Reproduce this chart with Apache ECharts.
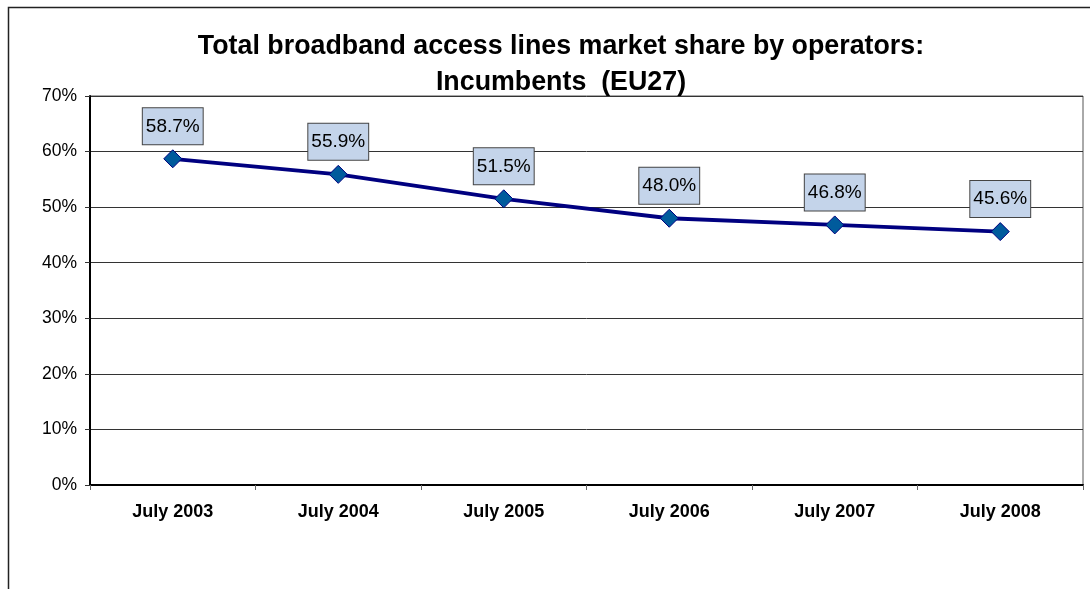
<!DOCTYPE html>
<html>
<head>
<meta charset="utf-8">
<script src="https://cdn.jsdelivr.net/npm/echarts@6/dist/echarts.min.js"></script>
<style>
html,body{
    margin:0;
    padding:0;
    background:#fff;
}
#chart{
    width:1090px;
    height:589px;
}
</style>
</head>
<body>
<div id="chart"></div>
<script type="text/javascript">
    var titleLines = ['Total broadband access lines market share by operators:', 'Incumbents  (EU27)'];
    var categories = ['July 2003', 'July 2004', 'July 2005', 'July 2006', 'July 2007', 'July 2008'];
    var shareValues = [58.7, 55.9, 51.5, 48.0, 46.8, 45.6];
    var yTicks = [0, 10, 20, 30, 40, 50, 60, 70];

    (function() {
        var myChart = echarts.init(document.getElementById('chart'));
        var font = 'Arial, "Liberation Sans", sans-serif';

        var option = {
            backgroundColor: '#fff',
            animation: false,
            // 外框
            graphic: [{
                type: 'rect',
                shape: {x: 8.5, y: 7.5, width: 1200, height: 700},
                style: {fill: 'none', stroke: '#222', lineWidth: 1.5},
                silent: true
            }],
            title: {
                text: titleLines.join('\n'),
                left: 556,
                top: 24,
                textAlign: 'center',
                textStyle: {
                    fontFamily: font,
                    fontSize: 26.8,
                    fontWeight: 'bold',
                    color: '#000',
                    lineHeight: 36
                }
            },
            grid: {
                left: 90,
                top: 96,
                width: 993,
                height: 389,
                show: true,
                borderColor: '#555',
                borderWidth: 1
            },
            xAxis: {
                type: 'category',
                data: categories,
                boundaryGap: true,
                axisLine: {lineStyle: {color: '#000', width: 2}},
                axisTick: {show: true, alignWithLabel: false, length: 5, lineStyle: {color: '#666'}},
                axisLabel: {
                    margin: 18,
                    fontFamily: font,
                    fontSize: 18,
                    fontWeight: 'bold',
                    color: '#000'
                },
                splitLine: {show: false}
            },
            yAxis: {
                type: 'value',
                min: yTicks[0],
                max: yTicks[yTicks.length - 1],
                interval: 10,
                axisLine: {show: true, lineStyle: {color: '#000', width: 2}},
                axisTick: {show: true, length: 5, lineStyle: {color: '#333'}},
                axisLabel: {
                    margin: 13,
                    fontFamily: font,
                    fontSize: 17.5,
                    color: '#000',
                    formatter: '{value}%'
                },
                splitLine: {lineStyle: {color: '#333', width: 1}}
            },
            series: [{
                name: 'Incumbents',
                type: 'line',
                data: shareValues,
                symbol: 'diamond',
                symbolSize: 18,
                lineStyle: {color: '#000080', width: 3.8},
                itemStyle: {color: '#005b9c', borderColor: '#000080', borderWidth: 1},
                label: {
                    show: true,
                    position: 'top',
                    distance: 5,
                    formatter: function(p) { return p.value.toFixed(1) + '%'; },
                    fontFamily: font,
                    fontSize: 19,
                    lineHeight: 20,
                    color: '#000',
                    backgroundColor: '#c4d4ea',
                    borderColor: '#444',
                    borderWidth: 1,
                    padding: [8, 3, 8, 3]
                },
                z: 5
            }]
        };
        myChart.setOption(option);
    })();
</script>
</body>
</html>
